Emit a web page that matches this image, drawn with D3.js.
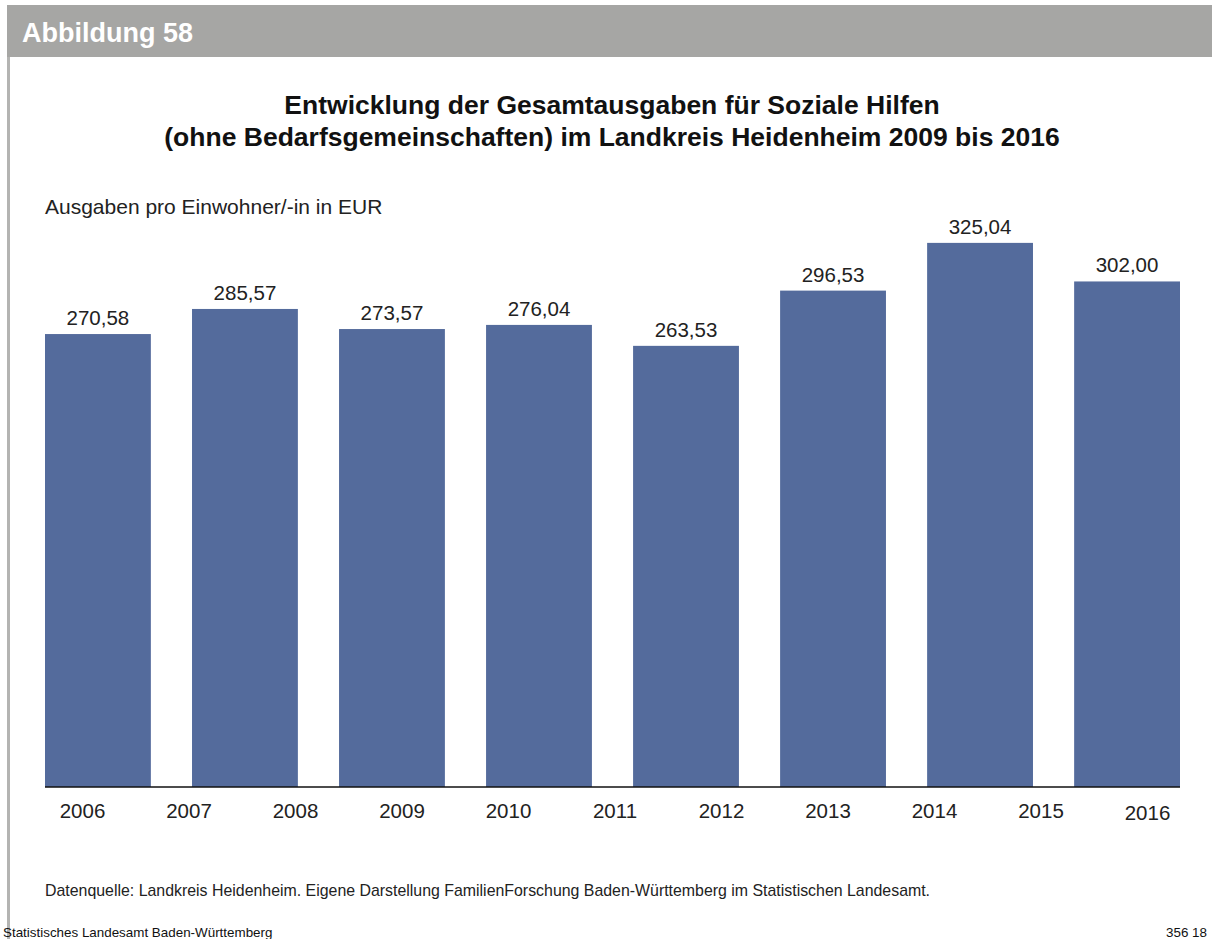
<!DOCTYPE html>
<html>
<head>
<meta charset="utf-8">
<script src="https://cdn.jsdelivr.net/npm/d3@7"></script>
<style>
  html, body { margin: 0; padding: 0; background: #fff; }
  svg { display: block; font-family: "Liberation Sans", Arial, Helvetica, sans-serif; }
</style>
</head>
<body>
<svg id="chart" width="1212" height="939"></svg>
<script>
// Bars: expenditure per inhabitant (EUR)
const barYears = ["2009", "2010", "2011", "2012", "2013", "2014", "2015", "2016"];
const barValues = [270.58, 285.57, 273.57, 276.04, 263.53, 296.53, 325.04, 302.00];
// Category labels printed along the axis
const axisLabels = ["2006", "2007", "2008", "2009", "2010", "2011", "2012", "2013", "2014", "2015", "2016"];

const titleLines = [
  "Entwicklung der Gesamtausgaben für Soziale Hilfen",
  "(ohne Bedarfsgemeinschaften) im Landkreis Heidenheim 2009 bis 2016"
];

const svg = d3.select("#chart");
const W = 1212, H = 939;

// Frame: header bar and left rule
svg.append("rect").attr("x", 7).attr("y", 5).attr("width", W - 7).attr("height", 52).attr("fill", "#a6a6a4");
svg.append("rect").attr("x", 7).attr("y", 57).attr("width", 3).attr("height", H - 57).attr("fill", "#b4b4b2");
svg.append("text").attr("x", 22).attr("y", 42)
  .attr("fill", "#fff").attr("font-size", 27).attr("font-weight", "bold")
  .text("Abbildung 58");

// Title
svg.append("g").selectAll("text").data(titleLines).join("text")
  .attr("x", 612).attr("y", (d, i) => 114 + i * 32)
  .attr("text-anchor", "middle").attr("font-size", 26.5).attr("font-weight", "bold").attr("fill", "#111")
  .text(d => d);

// Unit label
svg.append("text").attr("x", 45).attr("y", 214)
  .attr("font-size", 21).attr("fill", "#222")
  .text("Ausgaben pro Einwohner/-in in EUR");

// Scales
const baseY = 787;
const x = d3.scaleBand().domain(barYears).range([45, 1180]).paddingInner(0.28).paddingOuter(0);
const y = d3.scaleLinear().domain([0, 350]).range([baseY, baseY - 350 * 1.674]);
const xLab = d3.scalePoint().domain(axisLabels).range([82, 1147]);

// Bars
svg.append("g").selectAll("rect").data(barYears).join("rect")
  .attr("x", d => x(d))
  .attr("y", (d, i) => y(barValues[i]))
  .attr("width", x.bandwidth())
  .attr("height", (d, i) => baseY - y(barValues[i]))
  .attr("fill", "#546b9c");

// Value labels
const fmt = v => v.toFixed(2).replace(".", ",");
svg.append("g").selectAll("text").data(barYears).join("text")
  .attr("x", d => x(d) + x.bandwidth() / 2)
  .attr("y", (d, i) => y(barValues[i]) - 9)
  .attr("text-anchor", "middle").attr("font-size", 20.5).attr("fill", "#222")
  .text((d, i) => fmt(barValues[i]));

// Category axis
const axis = svg.append("g").attr("transform", `translate(0,${baseY})`)
  .call(d3.axisBottom(xLab).tickSize(0).tickPadding(14));
axis.select(".domain").attr("d", `M${x.range()[0]},0H${x.range()[1]}`).attr("stroke", "#111").attr("stroke-width", 1.5);
axis.selectAll("text").attr("font-size", 20.5).attr("fill", "#222")
  .attr("font-family", "\"Liberation Sans\", Arial, sans-serif")
  .attr("dy", d => d === "2016" ? "0.95em" : "0.85em");

// Footer
svg.append("text").attr("x", 45).attr("y", 896)
  .attr("font-size", 15.9).attr("fill", "#222")
  .text("Datenquelle: Landkreis Heidenheim. Eigene Darstellung FamilienForschung Baden-Württemberg im Statistischen Landesamt.");
svg.append("text").attr("x", 3).attr("y", 937)
  .attr("font-size", 13.4).attr("fill", "#111")
  .text("Statistisches Landesamt Baden-Württemberg");
svg.append("text").attr("x", 1207).attr("y", 937).attr("text-anchor", "end")
  .attr("font-size", 13.4).attr("fill", "#111")
  .text("356 18");
</script>
</body>
</html>
